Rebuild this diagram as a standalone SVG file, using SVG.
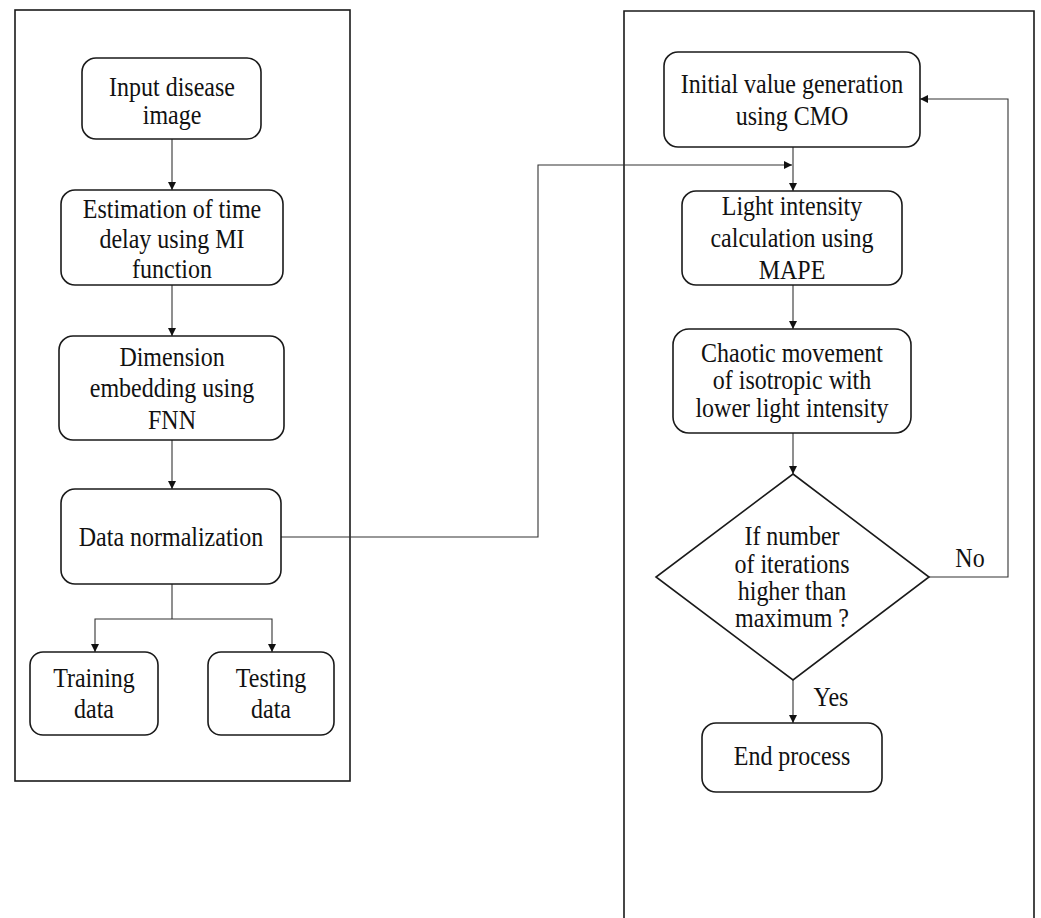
<svg xmlns="http://www.w3.org/2000/svg" width="1041" height="918" viewBox="0 0 1041 918">
  <style>
    .panel { fill: none; stroke: #1a1a1a; stroke-width: 1.6; }
    .box { fill: #ffffff; stroke: #1a1a1a; stroke-width: 1.6; }
    .edge { fill: none; stroke: #333333; stroke-width: 1.1; }
    .lbl { font-family: "Liberation Serif", "Times New Roman", serif; font-size: 26.5px; fill: #111111; text-anchor: middle; }
  </style>
  <defs>
    <marker id="arrow" viewBox="0 0 10 10" refX="10" refY="5" markerUnits="userSpaceOnUse" markerWidth="9" markerHeight="8" orient="auto">
      <path d="M0,0 L10,5 L0,10 z" fill="#111111"/>
    </marker>
  </defs>

  <rect width="1041" height="918" fill="#ffffff"/>

  <!-- panels -->
  <g id="panels">
    <rect class="panel" x="15" y="10" width="335" height="771"/>
    <path class="panel" d="M624,918 L624,11 L1034,11 L1034,918"/>
  </g>

  <!-- connectors -->
  <g id="connectors">
    <line class="edge" x1="172" y1="139" x2="172" y2="190" marker-end="url(#arrow)"/>
    <line class="edge" x1="172" y1="285" x2="172" y2="336" marker-end="url(#arrow)"/>
    <line class="edge" x1="172" y1="440" x2="172" y2="489" marker-end="url(#arrow)"/>
    <polyline class="edge" points="172,584 172,619"/>
    <polyline class="edge" points="172,619 95,619 95,652" marker-end="url(#arrow)"/>
    <polyline class="edge" points="172,619 272,619 272,652" marker-end="url(#arrow)"/>
    <polyline class="edge" points="281,537 538,537 538,165 792,165" marker-end="url(#arrow)"/>
    <line class="edge" x1="793" y1="147" x2="793" y2="191" marker-end="url(#arrow)"/>
    <line class="edge" x1="793" y1="285" x2="793" y2="329" marker-end="url(#arrow)"/>
    <line class="edge" x1="793" y1="433" x2="793" y2="474" marker-end="url(#arrow)"/>
    <line class="edge" x1="793" y1="680" x2="793" y2="723" marker-end="url(#arrow)"/>
    <polyline class="edge" points="929,577 1008,577 1008,99 920,99" marker-end="url(#arrow)"/>
    <g transform="translate(970,0) scale(0.905,1)"><text class="lbl" x="0" y="567">No</text></g>
    <g transform="translate(831,0) scale(0.905,1)"><text class="lbl" x="0" y="706">Yes</text></g>
  </g>

  <g id="input-image">
    <rect class="box" x="82" y="58" width="179" height="81" rx="14"/>
    <g transform="translate(172,0) scale(0.905,1)">
      <text class="lbl" x="0" y="96">Input disease</text>
      <text class="lbl" x="0" y="124">image</text>
    </g>
  </g>

  <g id="time-delay">
    <rect class="box" x="61" y="190" width="222" height="95" rx="14"/>
    <g transform="translate(172,0) scale(0.905,1)">
      <text class="lbl" x="0" y="218">Estimation of time</text>
      <text class="lbl" x="0" y="248">delay using MI</text>
      <text class="lbl" x="0" y="278">function</text>
    </g>
  </g>

  <g id="embedding">
    <rect class="box" x="59" y="336" width="225" height="104" rx="14"/>
    <g transform="translate(172,0) scale(0.905,1)">
      <text class="lbl" x="0" y="366">Dimension</text>
      <text class="lbl" x="0" y="397">embedding using</text>
      <text class="lbl" x="0" y="429">FNN</text>
    </g>
  </g>

  <g id="normalization">
    <rect class="box" x="61" y="489" width="220" height="95" rx="14"/>
    <g transform="translate(171,0) scale(0.905,1)">
      <text class="lbl" x="0" y="546">Data normalization</text>
    </g>
  </g>

  <g id="training">
    <rect class="box" x="30" y="652" width="128" height="83" rx="13"/>
    <g transform="translate(94,0) scale(0.905,1)">
      <text class="lbl" x="0" y="687">Training</text>
      <text class="lbl" x="0" y="718">data</text>
    </g>
  </g>

  <g id="testing">
    <rect class="box" x="208" y="652" width="126" height="83" rx="13"/>
    <g transform="translate(271,0) scale(0.905,1)">
      <text class="lbl" x="0" y="687">Testing</text>
      <text class="lbl" x="0" y="718">data</text>
    </g>
  </g>

  <g id="initial-value">
    <rect class="box" x="664" y="52" width="256" height="95" rx="14"/>
    <g transform="translate(792,0) scale(0.905,1)">
      <text class="lbl" x="0" y="93">Initial value generation</text>
      <text class="lbl" x="0" y="125">using CMO</text>
    </g>
  </g>

  <g id="light-intensity">
    <rect class="box" x="682" y="191" width="220" height="94" rx="14"/>
    <g transform="translate(792,0) scale(0.905,1)">
      <text class="lbl" x="0" y="215">Light intensity</text>
      <text class="lbl" x="0" y="247">calculation using</text>
      <text class="lbl" x="0" y="279">MAPE</text>
    </g>
  </g>

  <g id="chaotic-movement">
    <rect class="box" x="673" y="329" width="238" height="104" rx="16"/>
    <g transform="translate(792,0) scale(0.905,1)">
      <text class="lbl" x="0" y="362">Chaotic movement</text>
      <text class="lbl" x="0" y="389">of isotropic with</text>
      <text class="lbl" x="0" y="417">lower light intensity</text>
    </g>
  </g>

  <g id="iteration-check">
    <polygon class="box" points="793,474 929,577 793,680 656,577"/>
    <g transform="translate(792,0) scale(0.905,1)">
      <text class="lbl" x="0" y="545">If number</text>
      <text class="lbl" x="0" y="573">of iterations</text>
      <text class="lbl" x="0" y="600">higher than</text>
      <text class="lbl" x="0" y="627">maximum ?</text>
    </g>
  </g>

  <g id="end-process">
    <rect class="box" x="702" y="723" width="180" height="69" rx="14"/>
    <g transform="translate(792,0) scale(0.905,1)">
      <text class="lbl" x="0" y="765">End process</text>
    </g>
  </g>
</svg>
